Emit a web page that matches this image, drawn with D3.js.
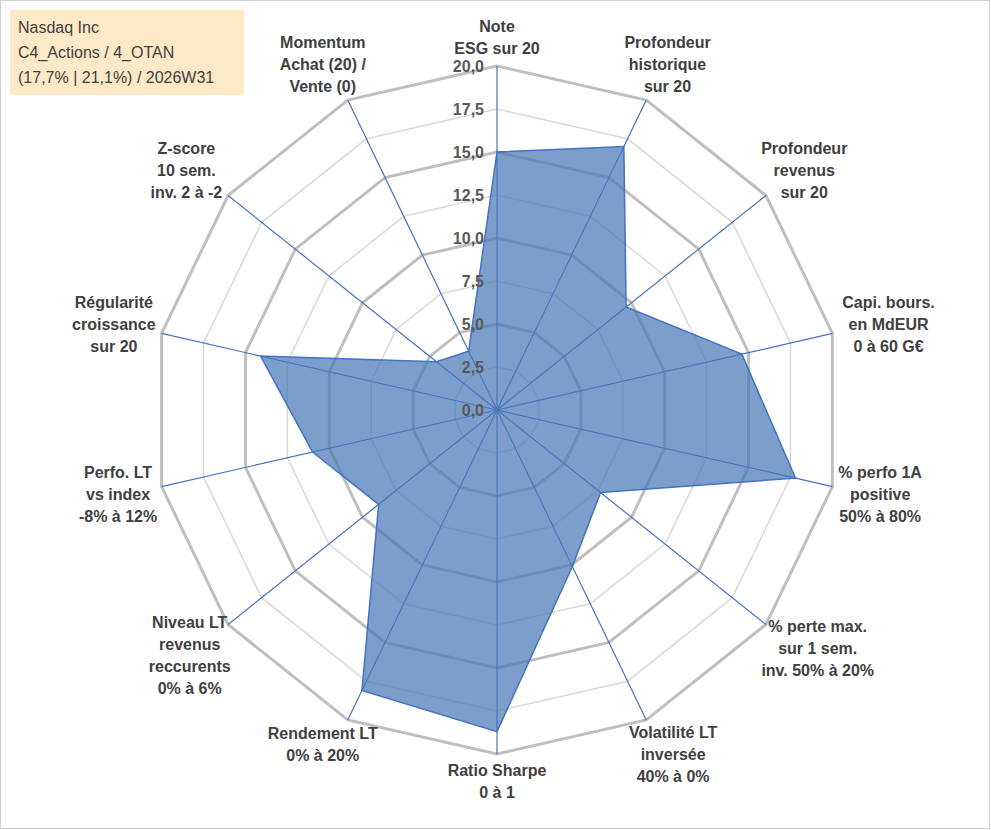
<!DOCTYPE html>
<html><head><meta charset="utf-8">
<script src="https://cdn.jsdelivr.net/npm/d3@7"></script>
<style>body{margin:0;background:#fff}text{font-family:"Liberation Sans",Arial,sans-serif}</style>
</head><body><svg id="c" width="991" height="830"></svg>
<script>
const categories = [
 ["Note","ESG sur 20"],
 ["Profondeur","historique","sur 20"],
 ["Profondeur","revenus","sur 20"],
 ["Capi. bours.","en MdEUR","0 à 60 G€"],
 ["% perfo 1A","positive","50% à 80%"],
 ["% perte max.","sur 1 sem.","inv. 50% à 20%"],
 ["Volatilité LT","inversée","40% à 0%"],
 ["Ratio Sharpe","0 à 1"],
 ["Rendement LT","0% à 20%"],
 ["Niveau LT","revenus","reccurents","0% à 6%"],
 ["Perfo. LT","vs index","-8% à 12%"],
 ["Régularité","croissance","sur 20"],
 ["Z-score","10 sem.","inv. 2 à -2"],
 ["Momentum","Achat (20) /","Vente (0)"]
];
const values = [15.0,17.0,9.6,14.6,17.8,7.7,10.1,18.7,18.1,8.8,11.0,14.1,4.5,3.8];
const ticks = [0,2.5,5,7.5,10,12.5,15,17.5,20];
const titleLines = ["Nasdaq Inc","C4_Actions / 4_OTAN","(17,7% | 21,1%) / 2026W31"];

const svg = d3.select("#c");
svg.append("rect").attr("x",0.5).attr("y",0.5).attr("width",989).attr("height",828).attr("fill","#fff").attr("stroke","#d0d0d0");
const cx=497, cy=410, R=344, n=categories.length;
const r = d3.scaleLinear().domain([0,20]).range([0,R]);
const ang = i => i*2*Math.PI/n;
const pt = (i,v) => [cx+r(v)*Math.sin(ang(i)), cy-r(v)*Math.cos(ang(i))];
const line = d3.line();

ticks.slice(1).forEach(t=>{
  const major = t%5===0;
  svg.append("path").attr("d", line(d3.range(n).map(i=>pt(i,t)))+"Z")
   .attr("fill","none").attr("stroke", major?"#bfbfbf":"#d9d9d9").attr("stroke-width", major?3:1.5);
});
d3.range(n).forEach(i=>{
  const [x,y]=pt(i,20);
  svg.append("line").attr("x1",cx).attr("y1",cy).attr("x2",x).attr("y2",y).attr("stroke","#4472c4").attr("stroke-width",1.2);
});
svg.append("path").attr("d", line(values.map((v,i)=>pt(i,v)))+"Z")
  .attr("fill","#4a78b5").attr("fill-opacity",0.72).attr("stroke","#4472c4").attr("stroke-width",1.5);

ticks.forEach(t=>{
  svg.append("text").attr("x",cx-13).attr("y",cy-r(t)+6).attr("text-anchor","end")
   .attr("font-size",16).attr("font-weight","bold").attr("fill","#595959").text(d3.format(".1f")(t).replace(".",","));
});

const lh=22;
categories.forEach((lines,i)=>{
  const s=Math.sin(ang(i)), c=Math.cos(ang(i));
  const ax=cx+(R+6)*s, ay=cy-(R+6)*c;
  const w=d3.max(lines,l=>l.length)*8.6, h=lines.length*lh;
  const bx=ax+s*w/2, by=ay-c*h/2;
  const g=svg.append("text").attr("text-anchor","middle").attr("font-size",16).attr("font-weight","bold").attr("fill","#404040");
  lines.forEach((l,k)=>g.append("tspan").attr("x",bx).attr("y",by-h/2+lh*k+16).text(l));
});

svg.append("rect").attr("x",10).attr("y",10).attr("width",234).attr("height",85).attr("fill","#fde9c6");
titleLines.forEach((l,k)=>svg.append("text").attr("x",18).attr("y",33+k*25).attr("font-size",16).attr("fill","#404040").text(l));
</script></body></html>
